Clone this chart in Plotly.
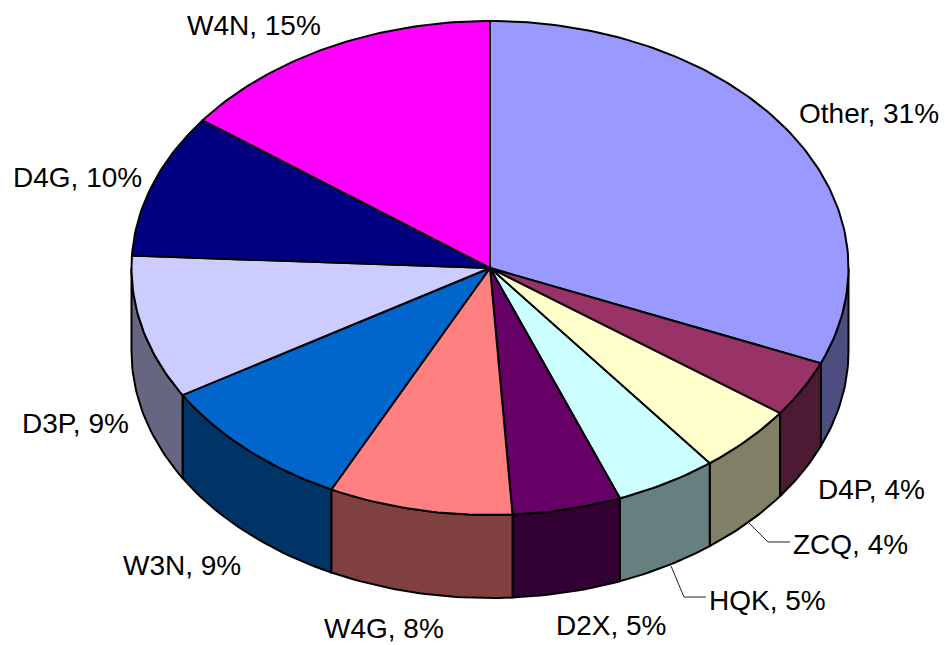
import numpy as np
import plotly.graph_objects as go

categories = ["Other", "D4P", "ZCQ", "HQK", "D2X", "W4G", "W3N", "D3P", "D4G", "W4N"]
shares = [31.3, 3.7, 4.5, 4.6, 4.9, 8.3, 9.1, 9.4, 9.4, 14.8]
shown_pct = [31, 4, 4, 5, 5, 8, 9, 9, 10, 15]
top_colors = ["#9999FF", "#993366", "#FFFFCC", "#CCFFFF", "#660066",
              "#FF8080", "#0066CC", "#CCCCFF", "#000080", "#FF00FF"]
side_colors = ["#4D4D80", "#4D1A33", "#808066", "#668080", "#330033",
               "#804040", "#003366", "#666680", "#000040", "#800080"]

# Pie geometry (plot coordinates equal page pixels)
CX, CY, RX, RY, DEPTH = 490, 268, 358.5, 247, 83
LINE = dict(color="black", width=2)
label_pos = [(869, 113), (871, 489), (850, 544), (767, 600), (611, 625),
             (384, 628), (182, 565), (75, 423), (77, 177), (254, 25)]
leaders = {"ZCQ": ([749, 768, 790], [523, 542, 542]),
           "HQK": ([671, 684, 706], [566, 597, 597])}


def arc(a0, a1, dy=0.0):
    n = max(2, int(abs(a1 - a0) / 1.0) + 2)
    t = np.radians(np.linspace(a0, a1, n))
    return CX + RX * np.sin(t), CY - RY * np.cos(t) + dy


edges = np.concatenate([[0], np.cumsum(shares)])
edges = edges * 360 / edges[-1]

fig = go.Figure()


def poly(x, y, color):
    fig.add_trace(go.Scatter(x=list(x), y=list(y), mode="lines", fill="toself",
                             fillcolor=color, line=LINE, hoverinfo="skip",
                             showlegend=False))


# Side walls: only the front half of the rim (90 to 270 degrees) can be seen
for i in range(len(shares)):
    a0, a1 = max(edges[i], 90), min(edges[i + 1], 270)
    if a1 <= a0:
        continue
    tx, ty = arc(a0, a1)
    bx, by = arc(a0, a1, DEPTH)
    poly(np.r_[tx, bx[::-1], tx[0]], np.r_[ty, by[::-1], ty[0]], side_colors[i])

# Top face
for i in range(len(shares)):
    tx, ty = arc(edges[i], edges[i + 1])
    poly(np.r_[CX, tx, CX], np.r_[CY, ty, CY], top_colors[i])

# Leader lines
for xs, ys in leaders.values():
    fig.add_trace(go.Scatter(x=xs, y=ys, mode="lines",
                             line=dict(color="#222222", width=1),
                             hoverinfo="skip", showlegend=False))

for name, pct, (lx, ly) in zip(categories, shown_pct, label_pos):
    fig.add_annotation(x=lx, y=ly, text=f"{name}, {pct}%", showarrow=False,
                       xanchor="center", yanchor="middle",
                       font=dict(family="Liberation Sans, Arial, sans-serif",
                                 size=28, color="black"))

fig.update_layout(
    width=945, height=645, autosize=False,
    margin=dict(l=0, r=0, t=0, b=0),
    paper_bgcolor="white", plot_bgcolor="white",
    xaxis=dict(range=[0, 945], visible=False, fixedrange=True),
    yaxis=dict(range=[645, 0], visible=False, fixedrange=True),
)
fig.write_html("out.html", config={"displayModeBar": False},
               post_script="document.body.style.margin='0';document.documentElement.style.overflow='hidden';")
